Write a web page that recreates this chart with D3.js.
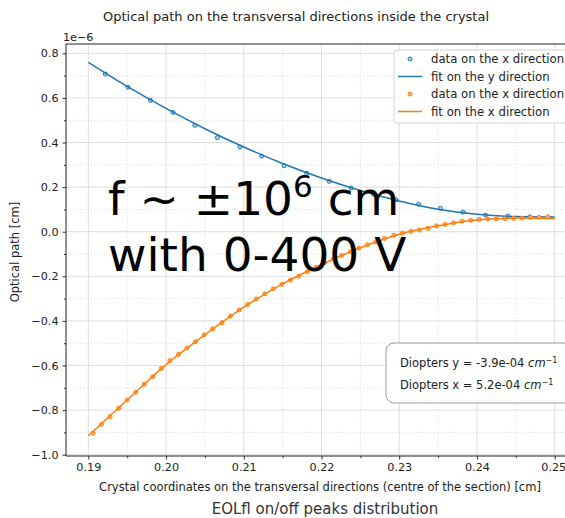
<!DOCTYPE html>
<html>
<head>
<meta charset="utf-8">
<script src="https://cdn.jsdelivr.net/npm/d3@7"></script>
<style>
  body { margin: 0; background: #fff; }
  svg { display: block; font-family: "DejaVu Sans", sans-serif; }
</style>
</head>
<body>
<svg id="chart" width="565" height="518"></svg>
<script>
// ---- data (optical path in units of 1e-6 cm) ----
const blueDataX = [0.1922,0.1951,0.1980,0.2009,0.2037,0.2066,0.2095,0.2123,0.2152,0.2181,
                   0.2210,0.2238,0.2267,0.2296,0.2325,0.2353,0.2382,0.2411,0.2440,0.2468];
const blueDataY = [0.707,0.648,0.589,0.535,0.477,0.422,0.380,0.339,0.296,0.262,
                   0.226,0.196,0.168,0.143,0.123,0.105,0.088,0.074,0.070,0.067];

const orangeDataX = [0.1906,0.1917,0.1928,0.1939,0.1950,0.1961,0.1972,0.1983,0.1994,0.2005,
                     0.2016,0.2027,0.2038,0.2049,0.2060,0.2072,0.2083,0.2094,0.2105,0.2116,
                     0.2127,0.2138,0.2149,0.2160,0.2171,0.2182,0.2193,0.2204,0.2215,0.2226,
                     0.2237,0.2248,0.2259,0.2270,0.2281,0.2293,0.2304,0.2315,0.2326,0.2337,
                     0.2348,0.2359,0.2370,0.2381,0.2392,0.2403,0.2414,0.2425,0.2436,0.2447,
                     0.2458,0.2469,0.2480,0.2491];
const orangeDataY = [-0.904,-0.864,-0.830,-0.792,-0.755,-0.720,-0.684,-0.650,-0.613,-0.578,
                     -0.550,-0.522,-0.493,-0.463,-0.436,-0.408,-0.378,-0.351,-0.326,-0.302,
                     -0.278,-0.256,-0.236,-0.217,-0.199,-0.179,-0.160,-0.139,-0.122,-0.106,
                     -0.090,-0.074,-0.058,-0.045,-0.030,-0.016,-0.006,0.002,0.008,0.015,
                     0.026,0.033,0.040,0.047,0.051,0.056,0.057,0.058,0.058,0.060,
                     0.061,0.065,0.065,0.067];

const fitX      = [0.190,0.195,0.200,0.205,0.210,0.215,0.220,0.225,0.230,0.235,0.240,0.245,0.250];
const blueFitY  = [0.760,0.652,0.553,0.462,0.380,0.306,0.241,0.185,0.138,0.101,0.078,0.068,0.066];
const orangeFitY= [-0.915,-0.755,-0.596,-0.462,-0.338,-0.234,-0.147,-0.072,-0.011,0.027,0.053,0.061,0.058];

const xMajorTicks = [0.19,0.20,0.21,0.22,0.23,0.24,0.25];
const xMinorTicks = [0.195,0.205,0.215,0.225,0.235,0.245];
const yMajorTicks = [-1.0,-0.8,-0.6,-0.4,-0.2,0.0,0.2,0.4,0.6,0.8];
const yMinorTicks = [-0.9,-0.7,-0.5,-0.3,-0.1,0.1,0.3,0.5,0.7];

const legendLabels = ["data on the x direction","fit on the y direction","data on the x direction","fit on the x direction"];
const diopterLabels = ["Diopters y = -3.9e-04 ", "Diopters x = 5.2e-04 "];

const BLUE = "#1f77b4", ORANGE = "#ff7f0e";
const FS = "11.5px";

// ---- layout ----
const svg = d3.select("#chart");
const pLeft = 66, pRight = 577, pTop = 44, pBottom = 456;

const x = d3.scaleLinear().domain([0.18713, 0.25287]).range([pLeft, pRight]);
const y = d3.scaleLinear().domain([-1.006, 0.842]).range([pBottom, pTop]);

// grid
const grid = svg.append("g");
grid.selectAll(".gxm").data(xMinorTicks).join("line")
  .attr("x1", d => x(d)).attr("x2", d => x(d)).attr("y1", pTop).attr("y2", pBottom)
  .attr("stroke", "#e2e2e2").attr("stroke-width", 1).attr("stroke-dasharray", "1.5,2");
grid.selectAll(".gym").data(yMinorTicks).join("line")
  .attr("y1", d => y(d)).attr("y2", d => y(d)).attr("x1", pLeft).attr("x2", pRight)
  .attr("stroke", "#e2e2e2").attr("stroke-width", 1).attr("stroke-dasharray", "1.5,2");
grid.selectAll(".gx").data(xMajorTicks).join("line")
  .attr("x1", d => x(d)).attr("x2", d => x(d)).attr("y1", pTop).attr("y2", pBottom)
  .attr("stroke", "#dedede").attr("stroke-width", 1);
grid.selectAll(".gy").data(yMajorTicks).join("line")
  .attr("y1", d => y(d)).attr("y2", d => y(d)).attr("x1", pLeft).attr("x2", pRight)
  .attr("stroke", "#dedede").attr("stroke-width", 1);

// axes
const fmt = d3.format(".2f"), fmtY = d3.format(".1f");
const xAxisG = svg.append("g").attr("transform", `translate(0,${pBottom})`)
  .call(d3.axisBottom(x).tickValues(xMajorTicks).tickFormat(fmt).tickSize(3.5).tickPadding(4));
svg.append("g").attr("transform", `translate(0,${pBottom})`)
  .call(d3.axisBottom(x).tickValues(xMinorTicks).tickFormat("").tickSize(2));
svg.append("g").attr("transform", `translate(${pLeft},0)`)
  .call(d3.axisLeft(y).tickValues(yMajorTicks).tickFormat(fmtY).tickSize(3.5).tickPadding(4));
svg.append("g").attr("transform", `translate(${pLeft},0)`)
  .call(d3.axisLeft(y).tickValues(yMinorTicks).tickFormat("").tickSize(2));
svg.selectAll(".domain").remove();
svg.selectAll(".tick line").attr("stroke", "#333");
svg.selectAll(".tick text").attr("fill", "#222").style("font-size", "11.2px")
  .style("font-family", '"DejaVu Sans", sans-serif');
// keep the last x label inside the visible frame
xAxisG.selectAll(".tick text").filter(d => d === 0.25).attr("text-anchor", "end").attr("dx", 11);

// series
const line = d3.line().x(d => x(d[0])).y(d => y(d[1])).curve(d3.curveMonotoneX);
const plot = svg.append("g");

function dots(xs, ys, color, fill) {
  plot.append("g").selectAll("circle").data(xs.map((v, i) => [v, ys[i]])).join("circle")
    .attr("cx", d => x(d[0])).attr("cy", d => y(d[1])).attr("r", 2)
    .attr("fill", fill).attr("stroke", color).attr("stroke-width", 1);
}
dots(blueDataX, blueDataY, BLUE, "#b5d3ea");
plot.append("path").datum(fitX.map((v, i) => [v, blueFitY[i]]))
  .attr("d", line).attr("fill", "none").attr("stroke", BLUE).attr("stroke-width", 1.5);
dots(orangeDataX, orangeDataY, ORANGE, "#ffb36e");
plot.append("path").datum(fitX.map((v, i) => [v, orangeFitY[i]]))
  .attr("d", line).attr("fill", "none").attr("stroke", ORANGE).attr("stroke-width", 1.5);

// spines
const spine = (x1, x2, y1, y2) => svg.append("line").attr("x1", x1).attr("x2", x2)
  .attr("y1", y1).attr("y2", y2).attr("stroke", "#222").attr("stroke-width", 1);
spine(pLeft, pLeft, pTop, pBottom);
spine(pLeft, pRight, pBottom, pBottom);
spine(pLeft, pRight, pTop, pTop);
spine(pRight, pRight, pTop, pBottom);

// offset label
svg.append("text").attr("x", pLeft - 3).attr("y", 41).attr("fill", "#222")
  .style("font-size", "11.2px").text("1e\u22126");

// titles
svg.append("text").attr("x", 296).attr("y", 21).attr("text-anchor", "middle")
  .attr("fill", "#222").style("font-size", "13px")
  .text("Optical path on the transversal directions inside the crystal");
svg.append("text").attr("x", 320).attr("y", 491).attr("text-anchor", "middle")
  .attr("fill", "#222").style("font-size", FS)
  .text("Crystal coordinates on the transversal directions (centre of the section) [cm]");
svg.append("text").attr("transform", `translate(19,${(pTop + pBottom) / 2 + 2}) rotate(-90)`)
  .attr("text-anchor", "middle").attr("fill", "#222").style("font-size", FS)
  .text("Optical path [cm]");
svg.append("text").attr("x", 325).attr("y", 514).attr("text-anchor", "middle")
  .attr("fill", "#333").style("font-size", "15px").text("EOLfl on/off peaks distribution");

// legend
const lg = svg.append("g").attr("transform", "translate(394,50)");
lg.append("rect").attr("width", 182).attr("height", 73).attr("rx", 3)
  .attr("fill", "#fff").attr("fill-opacity", 0.85).attr("stroke", "#d4d4d4");
const rowY = [9, 26.5, 44, 61.5];
legendLabels.forEach((t, i) => {
  const color = i < 2 ? BLUE : ORANGE;
  if (i % 2 === 0) {
    lg.append("circle").attr("cx", 16).attr("cy", rowY[i]).attr("r", 2)
      .attr("fill", i < 2 ? "#b5d3ea" : "#ffb36e").attr("stroke", color).attr("stroke-width", 1);
  } else {
    lg.append("line").attr("x1", 4).attr("x2", 28).attr("y1", rowY[i]).attr("y2", rowY[i])
      .attr("stroke", color).attr("stroke-width", 1.5);
  }
  lg.append("text").attr("x", 37).attr("y", rowY[i] + 4).attr("fill", "#222")
    .style("font-size", "11.7px").text(t);
});

// diopter box
const db = svg.append("g").attr("transform", "translate(386,343)");
db.append("rect").attr("width", 200).attr("height", 60).attr("rx", 8)
  .attr("fill", "#fff").attr("stroke", "#999").attr("stroke-width", 1);
diopterLabels.forEach((t, i) => {
  const tx = db.append("text").attr("x", 14).attr("y", 24 + i * 22).attr("fill", "#222")
    .style("font-size", FS);
  tx.append("tspan").text(t);
  tx.append("tspan").style("font-style", "italic").text("cm");
  tx.append("tspan").attr("dy", -4.5).style("font-size", "8px").text("\u22121");
});

// annotation
const ann = svg.append("g").attr("fill", "#000").style("font-size", "47px");
const l1 = ann.append("text").attr("x", 108).attr("y", 215);
l1.append("tspan").text("f ~ \u00b110");
l1.append("tspan").attr("dy", -18).style("font-size", "31px").text("6");
l1.append("tspan").attr("dy", 18).text(" cm");
ann.append("text").attr("x", 108).attr("y", 271).text("with 0-400 V");
</script>
</body>
</html>
